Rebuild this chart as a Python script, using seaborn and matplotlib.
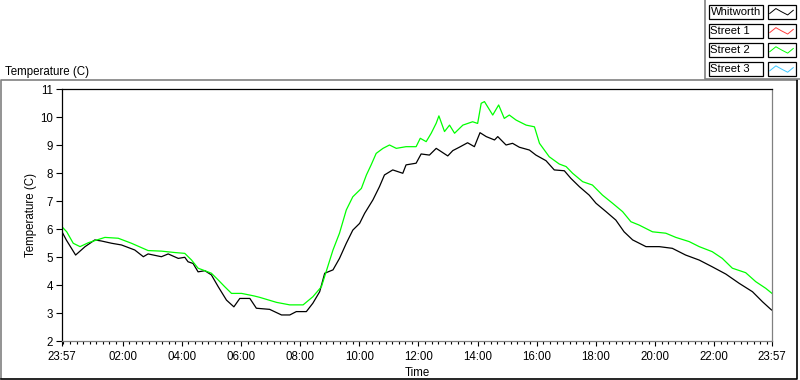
import pandas as pd
import numpy as np
import seaborn as sns
import matplotlib.pyplot as plt
import matplotlib.dates as mdates
from matplotlib.patches import Rectangle

# hours after the 23:57 start
whitworth_h = [0, 0.15, 0.46, 0.78, 1.11, 1.34, 1.68, 2.01, 2.46, 2.75, 2.91, 3.36, 3.59, 3.93, 4.15,
               4.26, 4.43, 4.60, 4.83, 5.05, 5.28, 5.56, 5.81, 6.01, 6.35, 6.57, 7.02, 7.42, 7.70, 7.92,
               8.26, 8.48, 8.71, 8.88, 9.16, 9.38, 9.61, 9.83, 10.06, 10.23, 10.51, 10.73, 10.90, 11.18, 11.52,
               11.63, 11.97, 12.14, 12.42, 12.65, 13.04, 13.21, 13.43, 13.71, 13.94, 14.13, 14.34, 14.62, 14.73, 15.01,
               15.23, 15.46, 15.80, 16.02, 16.36, 16.64, 16.98, 17.20, 17.49, 17.82, 18.05, 18.39, 18.72, 19.00, 19.29,
               19.74, 20.19, 20.63, 21.08, 21.54, 21.98, 22.44, 22.89, 23.34, 23.68, 23.96, 24.0]
whitworth_t = [5.9, 5.6, 5.07, 5.37, 5.61, 5.57, 5.49, 5.43, 5.25, 5.01, 5.11, 5.01, 5.11, 4.95, 4.99,
               4.83, 4.77, 4.47, 4.51, 4.36, 3.94, 3.46, 3.22, 3.52, 3.52, 3.17, 3.13, 2.93, 2.93, 3.05,
               3.05, 3.35, 3.76, 4.42, 4.54, 4.95, 5.49, 5.96, 6.20, 6.56, 7.04, 7.51, 7.93, 8.11, 7.99,
               8.29, 8.35, 8.68, 8.64, 8.88, 8.61, 8.80, 8.92, 9.08, 8.94, 9.44, 9.30, 9.18, 9.30, 9.00,
               9.06, 8.92, 8.82, 8.64, 8.44, 8.11, 8.08, 7.81, 7.51, 7.21, 6.92, 6.62, 6.32, 5.90, 5.61,
               5.37, 5.37, 5.31, 5.07, 4.89, 4.65, 4.39, 4.06, 3.76, 3.40, 3.13, 3.10]

street2_h = [0, 0.16, 0.38, 0.61, 0.89, 1.45, 1.90, 2.35, 2.91, 3.36, 3.81, 4.15, 4.38, 4.60, 4.83,
             5.05, 5.28, 5.50, 5.73, 6.07, 6.49, 6.68, 7.25, 7.70, 8.15, 8.48, 8.77, 8.93, 9.16, 9.38,
             9.61, 9.83, 10.12, 10.29, 10.45, 10.62, 10.85, 11.07, 11.30, 11.63, 11.97, 12.11, 12.31, 12.48, 12.65,
             12.74, 12.93, 13.10, 13.27, 13.55, 13.88, 14.05, 14.17, 14.28, 14.56, 14.76, 14.95, 15.12, 15.35, 15.69,
             15.97, 16.14, 16.47, 16.81, 17.04, 17.26, 17.60, 17.93, 18.27, 18.61, 18.95, 19.23, 19.51, 19.96, 20.41,
             20.75, 21.20, 21.54, 21.98, 22.32, 22.66, 23.11, 23.45, 23.79, 24.0]
street2_t = [6.08, 5.90, 5.49, 5.37, 5.51, 5.70, 5.67, 5.49, 5.23, 5.21, 5.16, 5.13, 4.89, 4.60, 4.51,
             4.42, 4.18, 3.94, 3.70, 3.70, 3.61, 3.56, 3.38, 3.29, 3.29, 3.58, 3.94, 4.48, 5.25, 5.85,
             6.68, 7.15, 7.45, 7.93, 8.29, 8.70, 8.88, 9.00, 8.88, 8.94, 8.94, 9.24, 9.12, 9.42, 9.78,
             10.04, 9.48, 9.71, 9.42, 9.71, 9.83, 9.77, 10.49, 10.55, 10.07, 10.43, 9.95, 10.07, 9.89, 9.71,
             9.65, 9.06, 8.58, 8.32, 8.23, 7.99, 7.69, 7.57, 7.21, 6.92, 6.62, 6.26, 6.14, 5.90, 5.85,
             5.70, 5.55, 5.37, 5.19, 4.95, 4.60, 4.44, 4.12, 3.88, 3.70]

series_names = ["Whitworth", "Street 1", "Street 2", "Street 3"]
series_colors = ["#000000", "#ff3c3c", "#00ff00", "#3cc8ff"]
x_labels = ["23:57", "02:00", "04:00", "06:00", "08:00", "10:00", "12:00",
            "14:00", "16:00", "18:00", "20:00", "22:00", "23:57"]
y_ticks = list(range(2, 12))

start = pd.Timestamp("2009-03-01 23:57")
end = start + pd.Timedelta(hours=24)

df = pd.concat([
    pd.DataFrame({"time": start + pd.to_timedelta(whitworth_h, unit="h"),
                  "temp": whitworth_t, "series": "Whitworth"}),
    pd.DataFrame({"time": start + pd.to_timedelta(street2_h, unit="h"),
                  "temp": street2_t, "series": "Street 2"}),
])

plt.rcParams["font.family"] = ["Liberation Sans", "DejaVu Sans"]
fs = 8.3

fig = plt.figure(figsize=(8, 3.8), dpi=100)
ax = fig.add_axes([62 / 800, 1 - 341 / 380, 710 / 800, 252 / 380])

sns.lineplot(data=df, x="time", y="temp", hue="series",
             palette=dict(zip(series_names, series_colors)),
             hue_order=["Whitworth", "Street 2"],
             estimator=None, legend=False, linewidth=0.9, ax=ax)

ax.set_xlim(start, end)
ax.set_ylim(2, 11)
ax.set_yticks(y_ticks)
ax.set_yticklabels([str(v) for v in y_ticks], fontsize=fs)

# major ticks: start, every 2 h, end
majors = [start] + [start.normalize() + pd.Timedelta(hours=24 + 2 * k) for k in range(1, 12)] + [end]
ax.set_xticks([mdates.date2num(t.to_pydatetime()) for t in majors])
ax.set_xticklabels(x_labels, fontsize=fs)
ref = start.normalize() + pd.Timedelta(hours=26)
minors = [ref + pd.Timedelta(seconds=800 * k) for k in range(-10, 100)]
minors = [t for t in minors if start <= t <= end]
ax.set_xticks([mdates.date2num(t.to_pydatetime()) for t in minors], minor=True)

ax.tick_params(axis="y", direction="out", length=4.3, width=0.8, pad=2)
ax.tick_params(axis="x", which="major", direction="out", length=3.8, width=0.8, pad=3.5)
ax.tick_params(axis="x", which="minor", direction="out", length=2.2, width=0.8)
ax.set_xlabel("Time", fontsize=fs, labelpad=3)
ax.set_ylabel("Temperature (C)", fontsize=fs)
ax.yaxis.set_label_coords(-25 / 710, 0.5)
for side, col in [("left", "black"), ("top", "black"), ("right", "#808080"), ("bottom", "#808080")]:
    ax.spines[side].set_color(col)
    ax.spines[side].set_linewidth(0.9)

# overlay in pixel coords for frame, title and legend
ov = fig.add_axes([0, 0, 1, 1], zorder=-1)
ov.set_xlim(0, 800)
ov.set_ylim(380, 0)
ov.axis("off")
ov.plot([1, 1, 797], [378, 80, 80], color="#808080", lw=1.2)
ov.plot([1, 797, 797], [378.5, 378.5, 80], color="black", lw=1.2)
ov.plot([705, 705, 800], [0, 79, 79], color="#808080", lw=1.2)
fig.text(5 / 800, 1 - 72 / 380, "Temperature (C)", fontsize=fs, va="center", ha="left")

ov2 = fig.add_axes([0, 0, 1, 1], zorder=5)
ov2.set_xlim(0, 800)
ov2.set_ylim(380, 0)
ov2.axis("off")
zig_x = np.array([0.08, 0.3, 0.5, 0.72, 0.92])
zig_y = np.array([0.62, 0.28, 0.5, 0.72, 0.4])
for i, (name, col) in enumerate(zip(series_names, series_colors)):
    top = 4.5 + i * 19.1
    ov2.add_patch(Rectangle((708.5, top), 54, 14.5, facecolor="white", edgecolor="black", lw=0.9))
    ov2.add_patch(Rectangle((767.5, top), 28, 14.5, facecolor="white", edgecolor="black", lw=0.9))
    ov2.text(710.5, top + 7.6, name, fontsize=fs - 0.2, va="center", ha="left")
    ov2.plot(767.5 + zig_x * 28, top + zig_y * 14.5, color=col, lw=0.7)

fig.savefig("out.png", dpi=100)
